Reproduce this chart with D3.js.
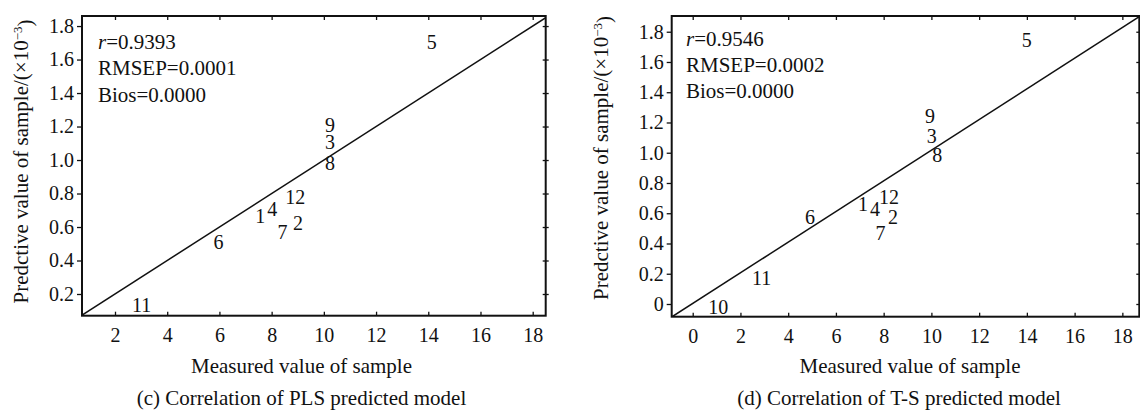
<!DOCTYPE html>
<html>
<head>
<meta charset="utf-8">
<script src="https://cdn.jsdelivr.net/npm/d3@7"></script>
<style>
  html, body { margin: 0; padding: 0; background: #fff; }
  svg { display: block; }
  text { font-family: "Liberation Serif", "Times New Roman", serif; fill: #111; }
</style>
</head>
<body>
<svg id="chart" width="1140" height="410"></svg>
<script>
// ---------- Data ----------
// (c) PLS model
const samplesPLS   = ["1", "2", "3", "4", "5", "6", "7", "8", "9", "11", "12"];
const measuredPLS  = [7.56, 9.01, 10.24, 8.02, 14.13, 5.96, 8.42, 10.24, 10.24, 3.02, 8.90];
const predictedPLS = [0.668, 0.626, 1.107, 0.707, 1.706, 0.508, 0.569, 0.984, 1.207, 0.135, 0.782];
const fitXPLS = [0.74, 18.5];
const fitYPLS = [0.074, 1.85];
const xTicksPLS = [2, 4, 6, 8, 10, 12, 14, 16, 18];
const yTicksPLS = [0.2, 0.4, 0.6, 0.8, 1.0, 1.2, 1.4, 1.6, 1.8];
const statsPLS = ["0.9393", "0.0001", "0.0000"];

// (d) T-S model
const samplesTS   = ["1", "2", "3", "4", "5", "6", "7", "8", "9", "10", "11", "12"];
const measuredTS  = [7.13, 8.39, 10.01, 7.64, 13.99, 4.91, 7.87, 10.25, 9.94, 1.07, 2.89, 8.22];
const predictedTS = [0.661, 0.577, 1.111, 0.628, 1.745, 0.573, 0.468, 0.985, 1.243, -0.018, 0.170, 0.709];
const fitXTS = [-0.88, 18.71];
const fitYTS = [-0.086, 1.90];
const xTicksTS = [0, 2, 4, 6, 8, 10, 12, 14, 16, 18];
const yTicksTS = [0, 0.2, 0.4, 0.6, 0.8, 1.0, 1.2, 1.4, 1.6, 1.8];
const statsTS = ["0.9546", "0.0002", "0.0000"];

const xTitle = "Measured value of sample";
const yTitleMain = "Predctive value of sample/(×10";
const captions = ["(c) Correlation of PLS predicted model", "(d) Correlation of T-S predicted model"];

// ---------- Drawing ----------
const svg = d3.select("#chart");

function panel(cfg) {
  const g = svg.append("g");
  const x = d3.scaleLinear().domain(cfg.xDomain).range([cfg.left, cfg.right]);
  const y = d3.scaleLinear().domain(cfg.yDomain).range([cfg.bottom, cfg.top]);
  const fmtY = d => d === 0 ? "0" : d3.format(".1f")(d);

  const clipId = "clip" + cfg.id;
  svg.append("clipPath").attr("id", clipId)
    .append("rect").attr("x", cfg.left).attr("y", cfg.top)
    .attr("width", cfg.right - cfg.left).attr("height", cfg.bottom - cfg.top);

  // bottom axis (ticks inward)
  const ax = g.append("g").attr("transform", `translate(0,${cfg.bottom})`)
    .call(d3.axisBottom(x).tickValues(cfg.xTicks).tickSizeInner(-4).tickSizeOuter(0).tickPadding(12).tickFormat(d3.format("d")));
  // left axis (ticks outward)
  const ay = g.append("g").attr("transform", `translate(${cfg.left},0)`)
    .call(d3.axisLeft(y).tickValues(cfg.yTicks).tickSizeInner(5).tickSizeOuter(0).tickPadding(3).tickFormat(fmtY));
  // top axis (ticks inward)
  const at = g.append("g").attr("transform", `translate(0,${cfg.top})`)
    .call(d3.axisTop(x).tickValues(cfg.xTicks).tickSizeInner(-4).tickSizeOuter(0).tickFormat(""));
  // right axis (ticks straddling)
  const ar = g.append("g").attr("transform", `translate(${cfg.right - 3},0)`)
    .call(d3.axisRight(y).tickValues(cfg.yTicks).tickSizeInner(6).tickSizeOuter(0).tickFormat(""));

  [ax, ay, at, ar].forEach(a => {
    a.select(".domain").remove();
    a.selectAll(".tick line").attr("stroke", "#111").attr("stroke-width", 1.3);
    a.selectAll(".tick text").style("font-size", "20px").attr("fill", "#111")
      .style("font-family", '"Liberation Serif", "Times New Roman", serif');
  });

  // frame
  g.append("rect").attr("x", cfg.left).attr("y", cfg.top)
    .attr("width", cfg.right - cfg.left).attr("height", cfg.bottom - cfg.top)
    .attr("fill", "none").attr("stroke", "#111").attr("stroke-width", 2);

  // fit line
  const line = d3.line().x(d => x(d[0])).y(d => y(d[1]));
  g.append("path").datum(d3.zip(cfg.fitX, cfg.fitY))
    .attr("d", line).attr("clip-path", `url(#${clipId})`)
    .attr("fill", "none").attr("stroke", "#111").attr("stroke-width", 1.5);

  // sample labels
  g.append("g").attr("clip-path", `url(#${clipId})`)
    .selectAll("text").data(d3.range(cfg.samples.length)).join("text")
    .attr("x", i => x(cfg.mx[i])).attr("y", i => y(cfg.py[i]))
    .attr("text-anchor", "middle").attr("dy", "0.35em")
    .style("font-size", "20px")
    .text(i => cfg.samples[i]);

  // stats
  const st = g.append("g").style("font-size", "21px");
  const t0 = st.append("text").attr("x", cfg.left + cfg.statDx).attr("y", cfg.top + cfg.statDy[0]);
  t0.append("tspan").style("font-style", "italic").text("r");
  t0.append("tspan").text("=" + cfg.stats[0]);
  st.append("text").attr("x", cfg.left + cfg.statDx).attr("y", cfg.top + cfg.statDy[1]).text("RMSEP=" + cfg.stats[1]);
  st.append("text").attr("x", cfg.left + cfg.statDx).attr("y", cfg.top + cfg.statDy[2]).text("Bios=" + cfg.stats[2]);

  // x title
  g.append("text").attr("x", cfg.xTitleX).attr("y", 373)
    .attr("text-anchor", "middle").style("font-size", "21px").text(xTitle);
  // caption
  g.append("text").attr("x", cfg.captionX).attr("y", 405)
    .attr("text-anchor", "middle").style("font-size", "21px").text(cfg.caption);
  // y title
  const yt = g.append("text")
    .attr("transform", `translate(${cfg.yTitleX},${cfg.yTitleY}) rotate(-90)`)
    .attr("text-anchor", "middle").style("font-size", "21px");
  yt.append("tspan").text(yTitleMain);
  yt.append("tspan").attr("dy", "-0.45em").style("font-size", "13px").text("−3");
  yt.append("tspan").attr("dy", "0.45em").text(")");
}

panel({
  id: "c", left: 82, right: 545.7, top: 16, bottom: 315.7,
  xDomain: [0.736, 18.498], yDomain: [0.0704, 1.86],
  xTicks: xTicksPLS, yTicks: yTicksPLS,
  samples: samplesPLS, mx: measuredPLS, py: predictedPLS,
  fitX: fitXPLS, fitY: fitYPLS, stats: statsPLS,
  statDx: 16, statDy: [32.5, 59, 85.5],
  xTitleX: 301.5, captionX: 301.5, caption: captions[0],
  yTitleX: 28, yTitleY: 161.5
});

panel({
  id: "d", left: 671.7, right: 1139.3, top: 16, bottom: 316.7,
  xDomain: [-0.88, 18.71], yDomain: [-0.084, 1.904],
  xTicks: xTicksTS, yTicks: yTicksTS,
  samples: samplesTS, mx: measuredTS, py: predictedTS,
  fitX: fitXTS, fitY: fitYTS, stats: statsTS,
  statDx: 14.3, statDy: [29.7, 55.7, 82.3],
  xTitleX: 910, captionX: 899, caption: captions[1],
  yTitleX: 607.5, yTitleY: 158
});
</script>
</body>
</html>
